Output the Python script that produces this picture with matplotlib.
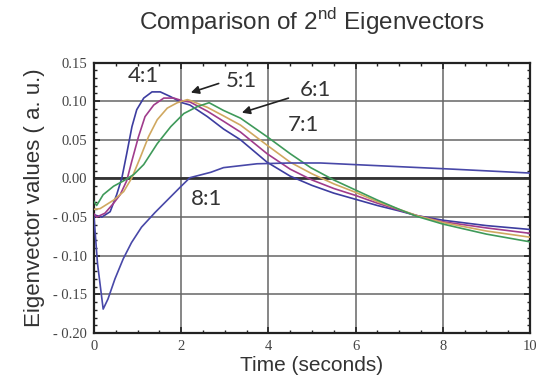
import numpy as np
import matplotlib.pyplot as plt
from matplotlib.ticker import MultipleLocator, FuncFormatter

# values
t_41 = [0.0, 0.18, 0.37, 0.52, 0.64, 0.75, 0.87, 0.98, 1.14, 1.33, 1.52, 1.75, 2.02, 2.2, 2.6, 2.97, 3.36, 3.97, 4.5,
        5.0, 5.5, 6.0, 6.5, 7.0, 7.4, 8.0, 9.0, 10.0]
v_41 = [-0.047, -0.050, -0.043, -0.021, 0.001, 0.032, 0.067, 0.089, 0.104, 0.112, 0.112, 0.106, 0.098, 0.095, 0.080, 0.064,
        0.050, 0.021, 0.003, -0.009, -0.019, -0.027, -0.035, -0.042, -0.048, -0.054, -0.061, -0.066]

t_51 = [0.0, 0.06, 0.25, 0.45, 0.60, 0.75, 0.87, 1.02, 1.17, 1.37, 1.60, 1.83, 2.06, 2.2, 2.6, 2.97, 3.36, 3.97, 4.5,
        5.0, 5.5, 6.0, 6.5, 7.0, 7.4, 8.0, 9.0, 10.0]
v_51 = [-0.046, -0.050, -0.045, -0.032, -0.021, -0.003, 0.023, 0.054, 0.080, 0.095, 0.104, 0.104, 0.100, 0.099, 0.087, 0.074,
        0.060, 0.032, 0.012, -0.002, -0.013, -0.022, -0.032, -0.041, -0.048, -0.056, -0.064, -0.071]

t_61 = [0.0, 0.14, 0.45, 0.68, 0.87, 1.06, 1.25, 1.45, 1.68, 1.91, 2.14, 2.2, 2.6, 2.97, 3.36, 3.97, 4.5,
        5.0, 5.5, 6.0, 6.5, 7.0, 7.4, 8.0, 9.0, 10.0]
v_61 = [-0.040, -0.039, -0.028, -0.017, 0.001, 0.027, 0.054, 0.076, 0.091, 0.098, 0.102, 0.101, 0.092, 0.081,
        0.069, 0.043, 0.021, 0.006, -0.007, -0.018, -0.030, -0.040, -0.048, -0.057, -0.068, -0.076]

t_71 = [0.0, 0.06, 0.21, 0.45, 0.68, 0.91, 1.14, 1.45, 1.76, 2.06, 2.37, 2.64, 2.97, 3.36, 3.97, 4.5, 4.97,
        5.5, 6.0, 6.5, 7.0, 7.4, 8.0, 9.0, 10.0]
v_71 = [-0.030, -0.035, -0.021, -0.010, -0.003, 0.005, 0.018, 0.045, 0.067, 0.084, 0.093, 0.098, 0.088, 0.078, 0.054,
        0.032, 0.014, -0.002, -0.015, -0.028, -0.040, -0.049, -0.059, -0.072, -0.082]

t_81 = [0.0, 0.08, 0.21, 0.32, 0.48, 0.67, 0.86, 1.09, 1.40, 1.70, 2.0, 2.2, 2.68, 2.97, 3.74, 4.5, 5.2, 6.33, 8.24, 10.0]
v_81 = [-0.050, -0.110, -0.169, -0.156, -0.130, -0.104, -0.083, -0.063, -0.044, -0.027, -0.010, 0.001, 0.008, 0.014, 0.019,
        0.020, 0.020, 0.017, 0.012, 0.007]

series = [
    (t_41, v_41, "#3d3da0"),
    (t_51, v_51, "#a03c8c"),
    (t_61, v_61, "#d0a860"),
    (t_71, v_71, "#3f9a5a"),
    (t_81, v_81, "#4848a8"),
]

plt.rcParams["mathtext.fontset"] = "custom"
plt.rcParams["mathtext.rm"] = "Liberation Sans"

fig = plt.figure(figsize=(5.36, 3.85), dpi=100)
ax = fig.add_axes([0.1754, 0.135, 0.8134, 0.7026])

for t, v, c in series:
    ax.plot(t, v, color=c, lw=1.2, zorder=3)

ax.set_xlim(0, 10)
ax.set_ylim(-0.20, 0.15)
ax.xaxis.set_major_locator(MultipleLocator(2))
ax.xaxis.set_minor_locator(MultipleLocator(0.5))
ax.yaxis.set_major_locator(MultipleLocator(0.05))
ax.yaxis.set_minor_locator(MultipleLocator(0.01))
ax.grid(True, which="major", color="#666666", lw=1.1, zorder=1)
ax.axhline(0, color="#333333", lw=2.0, zorder=2)

ax.tick_params(which="both", direction="in", top=True, right=True,
               colors="#222222", labelcolor="#444444")
ax.tick_params(which="major", length=4, width=1.2, pad=5)
ax.tick_params(which="minor", length=2.5, width=1.0)
for sp in ax.spines.values():
    sp.set_linewidth(1.6)
    sp.set_color("#222222")

ax.yaxis.set_major_formatter(FuncFormatter(lambda v, p: f"{v:.2f}".replace("-", "- ")))
ax.xaxis.set_major_formatter(FuncFormatter(lambda v, p: f"{v:.0f}"))
for lab in ax.get_xticklabels() + ax.get_yticklabels():
    lab.set_fontfamily("Liberation Serif")
    lab.set_fontsize(10.5)

ax.set_xlabel("Time (seconds)", fontsize=15, family="Liberation Sans", color="#333333", labelpad=2)
ax.set_ylabel("Eigenvector values ( a. u.)", fontsize=16, family="Liberation Sans", color="#333333", labelpad=6)
fig.text(0.582, 0.945, "Comparison of 2$^{\\mathrm{nd}}$ Eigenvectors", ha="center", va="center",
         fontsize=17.5, family="Liberation Sans", color="#333333")

lbl = dict(fontsize=16, family="Lato", color="#333333", ha="center", va="center", zorder=5)
ax.text(1.13, 0.132, "4:1", **lbl)
ax.text(3.39, 0.126, "5:1", **lbl)
ax.text(5.09, 0.114, "6:1", **lbl)
ax.text(4.80, 0.069, "7:1", **lbl)
ax.text(2.58, -0.026, "8:1", **lbl)

arw = dict(arrowstyle="-|>", color="#222222", lw=1.2, mutation_scale=12)
ax.annotate("", xy=(2.16, 0.110), xytext=(2.92, 0.124), arrowprops=arw, zorder=5)
ax.annotate("", xy=(3.33, 0.084), xytext=(4.52, 0.105), arrowprops=arw, zorder=5)

fig.savefig("out.png", dpi=100)
